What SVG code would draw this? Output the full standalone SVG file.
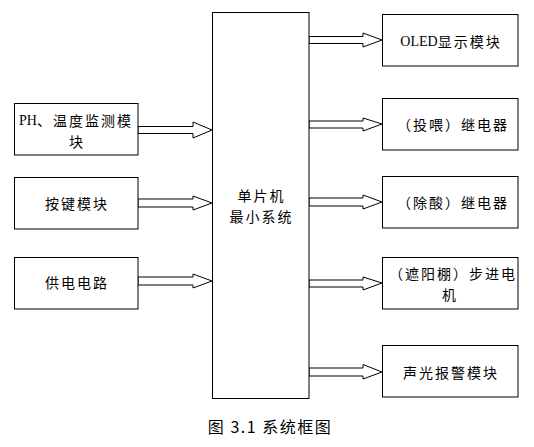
<svg xmlns="http://www.w3.org/2000/svg" width="534" height="447" viewBox="0 0 534 447">
<style>
.box{fill:#fff;stroke:#000;stroke-width:1}
.arr{fill:#fff;stroke:#000;stroke-width:1}
text{font-family:"Noto Sans CJK SC","Noto Sans",sans-serif;font-size:14px;fill:#000;text-anchor:middle;dominant-baseline:central;letter-spacing:2px}
.lat{font-family:"Liberation Serif",serif;letter-spacing:0}
.cap{font-size:16px;letter-spacing:1.5px}
</style>
<rect width="534" height="447" fill="#fff"/>
<g id="connectors">
<polygon class="arr" points="138,126.5 193,126.5 193,122 212,130 193,138 193,133.5 138,133.5"/>
<polygon class="arr" points="138,199 193,199 193,196 212,203 193,210 193,207 138,207"/>
<polygon class="arr" points="138,277 193,277 193,274 212,281 193,288 193,285 138,285"/>
<polygon class="arr" points="309,36.5 363,36.5 363,33 382,40 363,47 363,43.5 309,43.5"/>
<polygon class="arr" points="309,121 363,121 363,118 382,124 363,131 363,128 309,128"/>
<polygon class="arr" points="309,198 363,198 363,195 382,202 363,209 363,206 309,206"/>
<polygon class="arr" points="309,280 363,280 363,277 382,283 363,290 363,287 309,287"/>
<polygon class="arr" points="309,368 363,368 363,364.5 382,372 363,379 363,376 309,376"/>
</g>
<g id="mcu">
<rect class="box" x="212.5" y="12.5" width="96.5" height="386"/>
<text><tspan x="261.5" y="195">单片机</tspan><tspan x="261.5" y="215.5">最小系统</tspan></text>
</g>
<g id="ph">
<rect class="box" x="14.5" y="103.5" width="123.5" height="51.5"/>
<text><tspan x="76" y="120"><tspan class="lat">PH</tspan>、温度监测模</tspan><tspan x="77" y="140.5">块</tspan></text>
</g>
<g id="keys">
<rect class="box" x="14.5" y="177.5" width="123.5" height="51.5"/>
<text x="77" y="203">按键模块</text>
</g>
<g id="power">
<rect class="box" x="14.5" y="257.5" width="123.5" height="51.5"/>
<text x="77" y="282">供电电路</text>
</g>
<g id="oled">
<rect class="box" x="382.5" y="14.5" width="135.5" height="51.5"/>
<text x="451" y="41"><tspan class="lat">OLED</tspan>显示模块</text>
</g>
<g id="feed">
<rect class="box" x="382.5" y="98.5" width="135.5" height="51.5"/>
<text x="453" y="124">（投喂）继电器</text>
</g>
<g id="acid">
<rect class="box" x="382.5" y="176.5" width="135.5" height="51.5"/>
<text x="453" y="202">（除酸）继电器</text>
</g>
<g id="motor">
<rect class="box" x="382.5" y="257.5" width="135.5" height="51.5"/>
<text><tspan x="453" y="273">（遮阳棚）步进电</tspan><tspan x="450" y="293.5">机</tspan></text>
</g>
<g id="alarm">
<rect class="box" x="382.5" y="345.5" width="135.5" height="51.5"/>
<text x="451" y="372">声光报警模块</text>
</g>
<text class="cap" x="270" y="426">图 3.1 系统框图</text>
</svg>
